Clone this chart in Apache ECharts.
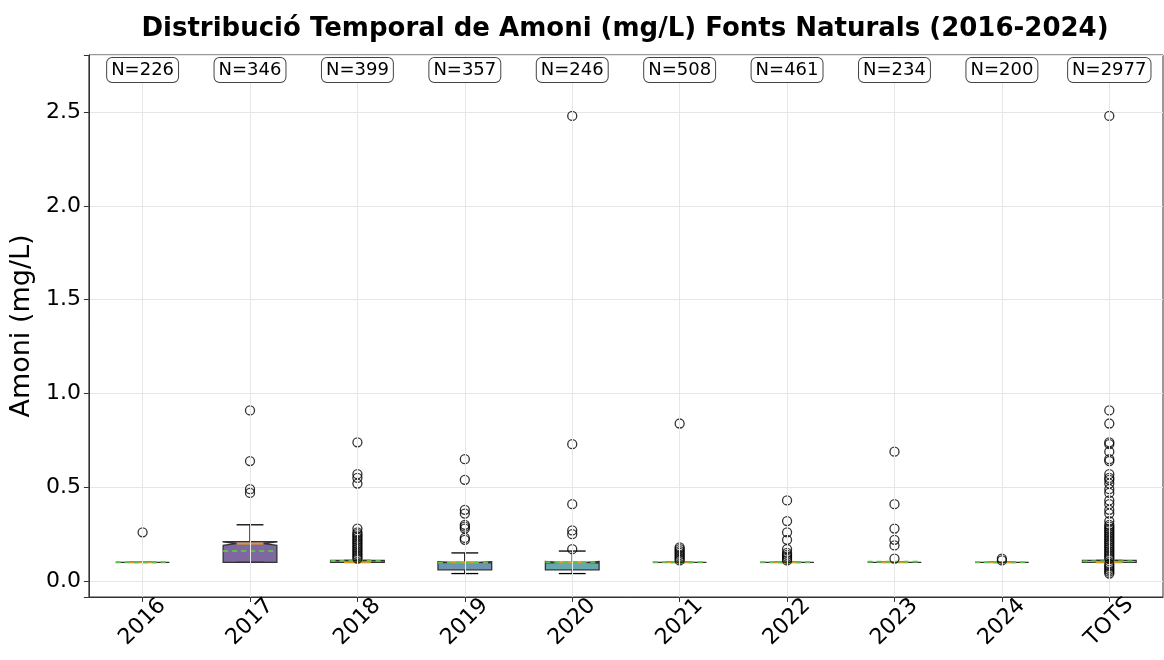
<!DOCTYPE html>
<html>
<head>
<meta charset="utf-8">
<script src="https://cdn.jsdelivr.net/npm/echarts@6/dist/echarts.min.js"></script>
<style>html,body{margin:0;padding:0;background:#fff}#c{width:1164px;height:660px}</style>
</head>
<body>
<div id="c"></div>
<script>
const categories = ['2016','2017','2018','2019','2020','2021','2022','2023','2024','TOTS'];
const counts = [226, 346, 399, 357, 246, 508, 461, 234, 200, 2977];
const whiskerLow = [0.1, 0.1, 0.1, 0.04, 0.04, 0.1, 0.1, 0.1, 0.1, 0.1];
const q1 = [0.1, 0.1, 0.1, 0.06, 0.06, 0.1, 0.1, 0.1, 0.1, 0.1];
const median = [0.1, 0.2, 0.1, 0.1, 0.1, 0.1, 0.1, 0.1, 0.1, 0.1];
const q3 = [0.1, 0.21, 0.11, 0.1, 0.1, 0.1, 0.1, 0.1, 0.1, 0.11];
const whiskerHigh = [0.1, 0.3, 0.11, 0.15, 0.16, 0.1, 0.1, 0.1, 0.1, 0.11];
const means = [0.1, 0.16, 0.107, 0.097, 0.1, 0.1, 0.1, 0.103, 0.1, 0.105];
const outliers2016 = [0.26];
const outliers2017 = [0.91, 0.64, 0.49, 0.47];
const outliers2018 = [0.74, 0.57, 0.55, 0.52, 0.28, 0.26, 0.25, 0.24, 0.23, 0.22, 0.21, 0.2, 0.19, 0.18, 0.17, 0.16, 0.15, 0.14, 0.13, 0.12];
const outliers2019 = [0.65, 0.54, 0.38, 0.36, 0.30, 0.29, 0.28, 0.23, 0.22];
const outliers2020 = [2.48, 0.73, 0.41, 0.27, 0.25, 0.17];
const outliers2021 = [0.84, 0.18, 0.17, 0.16, 0.15, 0.14, 0.13, 0.12, 0.11];
const outliers2022 = [0.43, 0.32, 0.26, 0.22, 0.17, 0.15, 0.14, 0.13, 0.12, 0.11];
const outliers2023 = [0.69, 0.41, 0.28, 0.22, 0.19, 0.12];
const outliers2024 = [0.12, 0.11];
const outliersTots = [2.48, 0.91, 0.84, 0.74, 0.73, 0.69, 0.65, 0.64, 0.57, 0.55, 0.54, 0.52, 0.49, 0.47, 0.43, 0.41, 0.38, 0.36, 0.32, 0.30, 0.29, 0.28, 0.27, 0.26, 0.25, 0.24, 0.23, 0.22, 0.21, 0.20, 0.19, 0.18, 0.17, 0.16, 0.15, 0.14, 0.13, 0.12, 0.09, 0.08, 0.07, 0.06, 0.05, 0.04];
const yTicks = ['0.0','0.5','1.0','1.5','2.0','2.5'];

const outlierGroups = [outliers2016, outliers2017, outliers2018, outliers2019, outliers2020, outliers2021, outliers2022, outliers2023, outliers2024, outliersTots];
const boxColors = ['#440154','#482878','#3e4989','#31688e','#26828e','#1f9e89','#35b779','#6ece58','#b5de2b','#fde725'];

const boxData = categories.map((c, i) => [i, whiskerLow[i], q1[i], median[i], q3[i], whiskerHigh[i], means[i], counts[i]]);
const outlierData = [];
outlierGroups.forEach((g, i) => g.forEach(v => outlierData.push([i, v])));
const labelData = categories.map((c, i) => [i, counts[i]]);

const chart = echarts.init(document.getElementById('c'), null, {renderer: 'canvas'});
const FONT = 'DejaVu Sans';

function renderBox(params, api) {
  const i = api.value(0);
  const lo = api.value(1), a = api.value(2), m = api.value(3), b = api.value(4), hi = api.value(5), mu = api.value(6), n = api.value(7);
  const bw = api.size([1, 0])[0] * 0.5;
  const cx = api.coord([i, 0])[0];
  const L = cx - bw / 2, R = cx + bw / 2;
  const y = v => api.coord([i, v])[1];
  const d = 1.57 * (b - a) / Math.sqrt(n);
  const nlo = m - d, nhi = m + d;
  const nw = bw / 4;
  const pts = [[L, y(a)], [L, y(nlo)], [L + nw, y(m)], [L, y(nhi)], [L, y(b)], [R, y(b)], [R, y(nhi)], [R - nw, y(m)], [R, y(nlo)], [R, y(a)]];
  const fill = echarts.color.modifyAlpha(boxColors[i], 0.7);
  const capW = bw / 2;
  const blk = {stroke: '#000', lineWidth: 1.3};
  return {
    type: 'group',
    children: [
      {type: 'line', shape: {x1: cx, y1: y(a), x2: cx, y2: y(lo)}, style: blk},
      {type: 'line', shape: {x1: cx, y1: y(b), x2: cx, y2: y(hi)}, style: blk},
      {type: 'line', shape: {x1: cx - capW / 2, y1: y(lo), x2: cx + capW / 2, y2: y(lo)}, style: blk},
      {type: 'line', shape: {x1: cx - capW / 2, y1: y(hi), x2: cx + capW / 2, y2: y(hi)}, style: blk},
      {type: 'polygon', shape: {points: pts}, style: {fill: fill, stroke: '#333', lineWidth: 1.3}},
      {type: 'line', shape: {x1: L + nw, y1: y(m), x2: R - nw, y2: y(m)}, style: {stroke: '#e09a1c', lineWidth: 2}},
      {type: 'line', shape: {x1: L, y1: y(mu), x2: R, y2: y(mu)}, style: {stroke: '#5fbf4c', lineWidth: 2, lineDash: [5, 4]}}
    ]
  };
}

function renderLabel(params, api) {
  const p = api.coord([api.value(0), 2.725]);
  return {
    type: 'text',
    x: p[0], y: p[1],
    style: {
      text: 'N=' + api.value(1),
      align: 'center', verticalAlign: 'middle',
      fontFamily: FONT, fontSize: 18, fill: '#000',
      backgroundColor: '#fff', borderColor: '#444', borderWidth: 1, borderRadius: 5,
      padding: [3, 4, 3, 4]
    }
  };
}

chart.setOption({
  animation: false,
  backgroundColor: '#fff',
  graphic: [{
    type: 'text', x: 625, y: 29,
    style: {text: 'Distribució Temporal de Amoni (mg/L) Fonts Naturals (2016-2024)', align: 'center', verticalAlign: 'middle',
      fontFamily: FONT, fontSize: 26, fontWeight: 'bold', fill: '#000'}
  }],
  grid: {left: 87, right: 1, top: 55, bottom: 63, show: true, borderColor: '#333', borderWidth: 1, backgroundColor: 'transparent'},
  xAxis: {
    type: 'category', data: categories, boundaryGap: true,
    axisLine: {show: true, onZero: false, lineStyle: {color: '#333', width: 1}},
    axisTick: {show: true, alignWithLabel: true, length: 5, lineStyle: {color: '#333'}},
    axisLabel: {rotate: 45, align: 'center', verticalAlign: 'middle', margin: 25, fontFamily: FONT, fontSize: 22, color: '#000', interval: 0},
    splitLine: {show: false}
  },
  yAxis: {
    type: 'value', min: -0.085, max: 2.805, splitNumber: 5,
    name: 'Amoni (mg/L)', nameLocation: 'middle', nameGap: 53,
    nameTextStyle: {fontFamily: FONT, fontSize: 27, color: '#000'},
    axisLine: {show: true, lineStyle: {color: '#333', width: 1}},
    axisTick: {show: true, length: 5, lineStyle: {color: '#333'}},
    axisLabel: {fontFamily: FONT, fontSize: 22, color: '#000', margin: 8, showMinLabel: true, showMaxLabel: true,
      formatter: v => { const k = Math.round(v / 0.5); return Math.abs(v - k * 0.5) < 1e-6 && k >= 0 && k < yTicks.length ? yTicks[k] : ''; }},
    splitLine: {show: true, lineStyle: {color: '#e6e6e6', width: 1}}
  },
  series: [
    {
      type: 'custom', name: 'grid', data: [], renderItem: () => null,
      markLine: {silent: true, symbol: 'none', label: {show: false}, animation: false,
        lineStyle: {color: '#e6e6e6', width: 1, type: 'solid'},
        data: categories.map(c => ({xAxis: c}))}
    },
    {type: 'custom', name: 'boxes', data: boxData, renderItem: renderBox, z: 3, encode: {x: 0, y: [1, 5]}},
    {type: 'scatter', name: 'outliers', data: outlierData, symbol: 'circle', symbolSize: 9, z: 4,
      itemStyle: {color: 'rgba(0,0,0,0)', borderColor: '#000', borderWidth: 1.3}},
    {type: 'custom', name: 'labels', data: labelData, renderItem: renderLabel, z: 5, encode: {x: 0}}
  ]
});
</script>
</body>
</html>
